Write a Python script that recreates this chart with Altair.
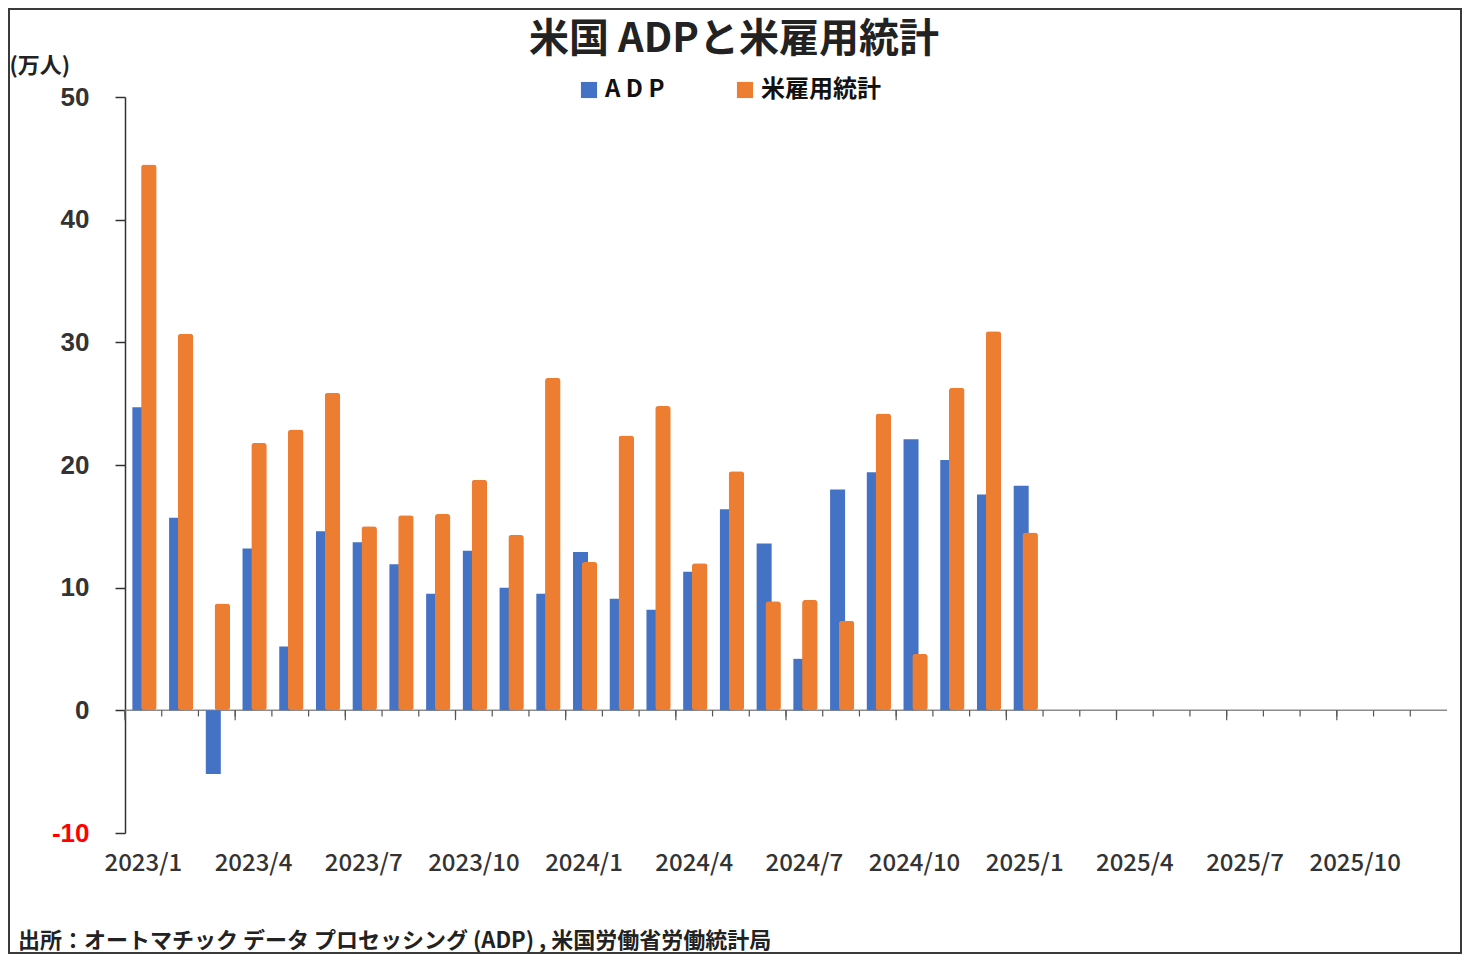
import altair as alt
import pandas as pd

months = [f"{y}/{m}" for y in (2023, 2024, 2025) for m in range(1, 13)]
label_months = ["2023/1", "2023/4", "2023/7", "2023/10", "2024/1", "2024/4",
                "2024/7", "2024/10", "2025/1", "2025/4", "2025/7", "2025/10"]
data_months = months[:25]
adp = [24.7, 15.7, -5.2, 13.2, 5.2, 14.6, 13.7, 11.9, 9.5, 13.0, 10.0, 9.5,
       12.9, 9.1, 8.2, 11.3, 16.4, 13.6, 4.2, 18.0, 19.4, 22.1, 20.4, 17.6, 18.3]
nfp = [44.5, 30.7, 8.7, 21.8, 22.9, 25.9, 15.0, 15.9, 16.0, 18.8, 14.3, 27.1,
       12.1, 22.4, 24.8, 12.0, 19.5, 8.9, 9.0, 7.3, 24.2, 4.6, 26.3, 30.9, 14.5]
series = ["ADP", "米雇用統計"]
colors = ["#4472C4", "#ED7D31"]
title_text = "米国 ADPと米雇用統計"
footer = "出所：オートマチック データ プロセッシング (ADP) , 米国労働省労働統計局"

JP = "Noto Sans CJK JP"
W, H = 1322, 736
HALF_BAND = W / len(months) / 2

df = pd.DataFrame({
    "month": data_months * 2,
    "series": [series[0]] * len(adp) + [series[1]] * len(nfp),
    "value": adp + nfp,
})
tick_df = pd.DataFrame({"month": months,
                        "quarter": [i % 3 == 0 for i in range(len(months))]})
one = pd.DataFrame({"t": [footer], "title": [title_text]})

xscale = alt.Scale(domain=months, paddingInner=0, paddingOuter=0)
yscale = alt.Scale(domain=[-10, 50], nice=False)
cscale = alt.Scale(domain=series, range=colors)

xaxis = alt.Axis(values=label_months, labelAngle=0, ticks=False, domain=False,
                 grid=False, labelAlign="center",
                 labelFont=JP, labelFontSize=24, labelFontWeight=500,
                 labelColor="#333333", labelPadding=30, title=None)
yaxis = alt.Axis(values=[-10, 0, 10, 20, 30, 40, 50], title="(万人)", titleAngle=0,
                 titleAlign="left", titleBaseline="middle", titleX=-116, titleY=-32,
                 titleFont=JP, titleFontSize=22, titleFontWeight="bold", titleColor="#222222",
                 labelFont="Liberation Sans", labelFontSize=26, labelFontWeight="bold",
                 labelExpr="datum.value + ''",
                 labelColor={"condition": {"test": "datum.value < 0", "value": "#FF0000"},
                             "value": "#333333"},
                 labelPadding=26, tickSize=10, tickColor="#333333", tickWidth=1.5,
                 domainColor="#333333", domainWidth=1.5, gridColor="#d9d9d9", gridWidth=1)

base = alt.Chart(df)
blue = base.transform_filter(alt.datum.series == series[0]).mark_bar(
    width=15, xOffset=-3.5).encode(
    x=alt.X("month:N", scale=xscale, axis=xaxis),
    y=alt.Y("value:Q", scale=yscale, axis=yaxis),
    color=alt.Color("series:N", scale=cscale,
                    legend=alt.Legend(title=None, orient="none", legendX=452, legendY=-19,
                                      direction="horizontal", symbolType="square",
                                      symbolSize=260, symbolStrokeWidth=0,
                                      labelFont=JP, labelFontSize=24, labelFontWeight="bold",
                                      labelColor="#111111", columnPadding=68,
                                      labelExpr="datum.label == 'ADP' ? 'A D P' : datum.label")),
)
orange = base.transform_filter(alt.datum.series == series[1]).mark_bar(
    width=15.5, xOffset=5.5, cornerRadius=3).encode(
    x=alt.X("month:N", scale=xscale),
    y=alt.Y("value:Q", scale=yscale),
    color=alt.Color("series:N", scale=cscale),
)

zero = alt.Chart(one).mark_rule(color="#8c8c8c", strokeWidth=1.5).encode(
    x=alt.value(0), x2=alt.value(W), y=alt.datum(0, scale=yscale))

ticks_short = alt.Chart(tick_df).mark_rule(
    color="#555555", strokeWidth=1.2, xOffset=-HALF_BAND).encode(
    x=alt.X("month:N", scale=xscale),
    y=alt.datum(0), y2=alt.datum(-0.5))
ticks_long = alt.Chart(tick_df).transform_filter("datum.quarter").mark_rule(
    color="#555555", strokeWidth=1.2, xOffset=-HALF_BAND).encode(
    x=alt.X("month:N", scale=xscale),
    y=alt.datum(0), y2=alt.datum(-0.8))

title = alt.Chart(one).mark_text(align="center", baseline="middle", font=JP, fontSize=40,
                                 fontWeight="bold", color="#222222").encode(
    x=alt.value(609), y=alt.value(-57), text="title:N")

foot = alt.Chart(one).mark_text(align="left", baseline="middle", font=JP, fontSize=22,
                                fontWeight="bold", color="#222222").encode(
    x=alt.value(-107), y=alt.value(844), text="t:N")

border = alt.Chart(one).mark_rect(fillOpacity=0, stroke="#3a3a3a", strokeWidth=2).encode(
    x=alt.value(-116), x2=alt.value(W + 14), y=alt.value(-88), y2=alt.value(H + 120))

chart = alt.layer(zero, ticks_short, ticks_long, blue, orange, title, foot, border).properties(
    width=W, height=H,
    autosize=alt.AutoSizeParams(type="none"),
    padding={"left": 117, "top": 89, "right": 15, "bottom": 121},
).configure(background="white").configure_view(stroke=None)

chart.save("out.html", embed_options={"renderer": "svg", "actions": False})
